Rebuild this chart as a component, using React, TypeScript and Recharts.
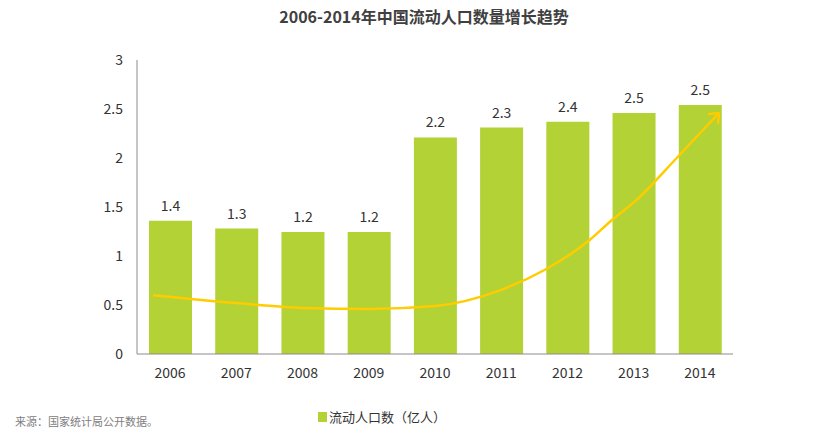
import React from 'react';
import { ComposedChart, Bar, Line, XAxis, YAxis, LabelList } from 'recharts';

const years = ['2006', '2007', '2008', '2009', '2010', '2011', '2012', '2013', '2014'];
const population = [1.36, 1.28, 1.245, 1.245, 2.21, 2.31, 2.37, 2.46, 2.54];
const valueLabels = ['1.4', '1.3', '1.2', '1.2', '2.2', '2.3', '2.4', '2.5', '2.5'];
const yTicks = [0, 0.5, 1, 1.5, 2, 2.5, 3];

// trend arrow: position along the category axis (0..9) and value
const trendPos = [0.24, 1.5, 2.5, 3.5, 4.5, 5.48, 6.16, 6.83, 7.16, 7.54, 8.15, 8.79];
const trendVal = [0.6, 0.52, 0.47, 0.46, 0.49, 0.65, 0.86, 1.16, 1.36, 1.57, 2.0, 2.46];

const title = '2006-2014年中国流动人口数量增长趋势';
const sourceText = '来源：国家统计局公开数据。';
const seriesName = '流动人口数（亿人）';

const barColor = '#b2d235';
const trendColor = '#ffcc00';
const textColor = '#333333';
const font = '"Noto Sans CJK SC", "Noto Sans", sans-serif';

const data = years.map((y, i) => ({ year: y, value: population[i], label: valueLabels[i] }));
const trendData = trendPos.map((x, i) => ({ x, v: trendVal[i] }));

const ArrowDot = (props: any) => {
  const { cx, cy, index } = props;
  if (index !== trendData.length - 1) return <g key={`d${index}`} />;
  return (
    <path
      key={`d${index}`}
      d={`M${cx - 10},${cy + 1} L${cx},${cy} L${cx - 1},${cy + 10}`}
      fill="none"
      stroke={trendColor}
      strokeWidth={2.5}
      strokeLinecap="round"
      strokeLinejoin="round"
    />
  );
};

export default function App() {
  return (
    <div style={{ position: 'absolute', left: 0, top: 0, width: 815, height: 436, background: '#fff', fontFamily: font }}>
      <div
        style={{
          position: 'absolute',
          left: 0,
          width: 848,
          top: 4,
          textAlign: 'center',
          fontSize: 16,
          fontWeight: 'bold',
          color: '#404040',
        }}
      >
        {title}
      </div>
      <div style={{ position: 'absolute', left: 15, top: 413, fontSize: 11, color: '#808080' }}>{sourceText}</div>
      <div
        style={{
          position: 'absolute',
          left: 318,
          top: 407,
          display: 'flex',
          alignItems: 'center',
          fontSize: 13,
          color: textColor,
        }}
      >
        <span style={{ display: 'inline-block', width: 9, height: 10, background: barColor, marginRight: 2 }} />
        <span>{seriesName}</span>
      </div>
      <div style={{ position: 'absolute', left: 0, top: 0 }}>
        <ComposedChart width={815} height={436} data={data} margin={{ top: 60, right: 82, bottom: 52, left: 0 }}>
          <XAxis
            dataKey="year"
            xAxisId="cat"
            height={30}
            stroke="#8c8c8c"
            tickLine={false}
            tickMargin={8}
            tick={{ fill: textColor, fontSize: 14, fontFamily: font }}
          />
          <XAxis xAxisId="num" dataKey="x" type="number" domain={[0, 9]} hide allowDataOverflow />
          <YAxis
            width={137}
            domain={[0, 3]}
            ticks={yTicks}
            stroke="#8c8c8c"
            tickLine={false}
            tickMargin={8}
            tick={{ fill: textColor, fontSize: 14, fontFamily: font }}
          />
          <Bar dataKey="value" xAxisId="cat" fill={barColor} barSize={43} isAnimationActive={false} name={seriesName}>
            <LabelList dataKey="label" position="top" offset={10} fill={textColor} fontSize={14} fontFamily={font} />
          </Bar>
          <Line
            data={trendData}
            xAxisId="num"
            dataKey="v"
            type="monotone"
            stroke={trendColor}
            strokeWidth={2.5}
            dot={ArrowDot}
            activeDot={false}
            legendType="none"
            isAnimationActive={false}
          />
        </ComposedChart>
      </div>
    </div>
  );
}
